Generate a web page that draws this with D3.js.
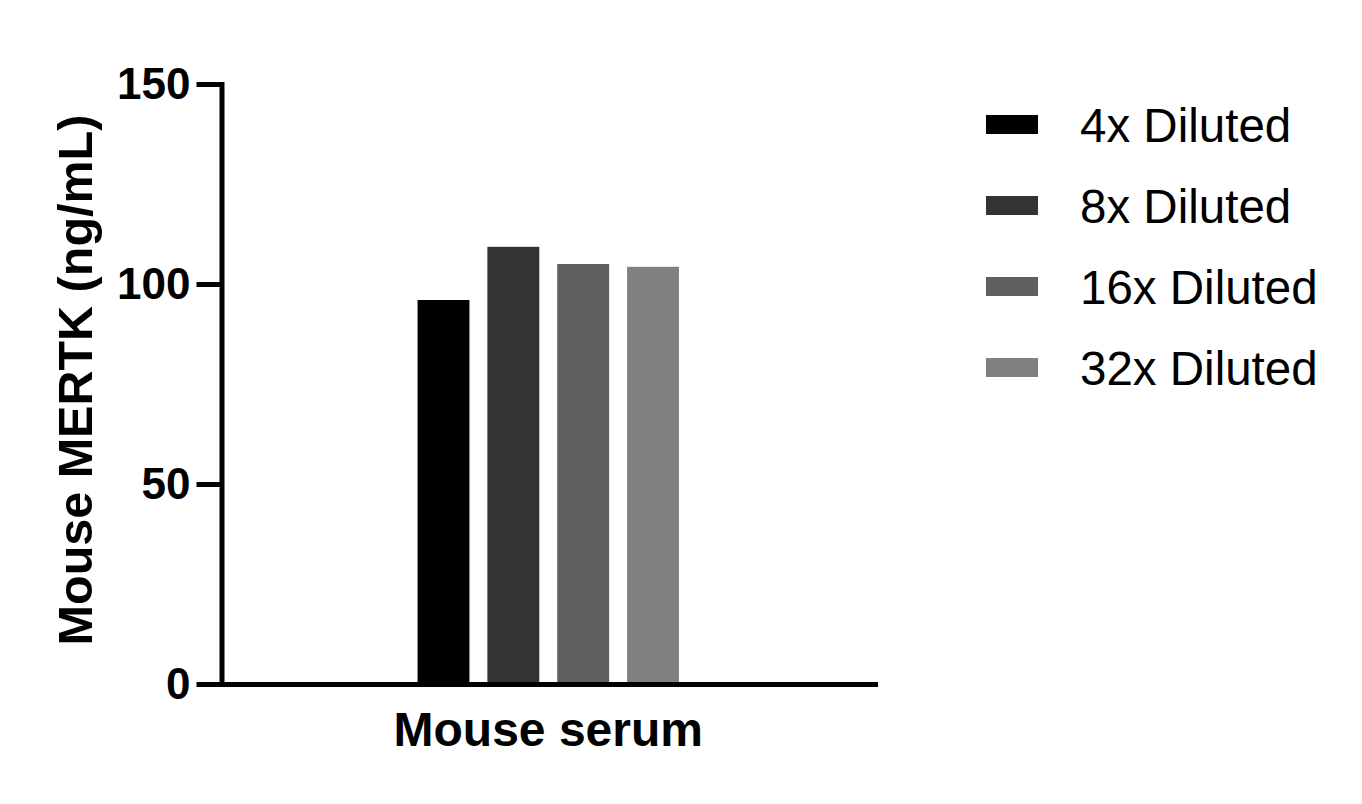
<!DOCTYPE html>
<html>
<head>
<meta charset="utf-8">
<script src="https://cdn.jsdelivr.net/npm/d3@7"></script>
<style>
  html, body { margin: 0; padding: 0; background: #fff; }
  svg { display: block; font-family: "Liberation Sans", Arial, Helvetica, sans-serif; }
</style>
</head>
<body>
<svg id="chart" width="1362" height="804"></svg>
<script>
const categories = ["Mouse serum"];
const seriesNames = ["4x Diluted", "8x Diluted", "16x Diluted", "32x Diluted"];
const seriesValues = [96, 109.3, 105, 104.3];
const seriesColors = ["#000000", "#333333", "#606060", "#808080"];
const yTicks = [0, 50, 100, 150];
const yTitle = "Mouse MERTK (ng/mL)";

(function () {
const svg = d3.select("#chart");
const plotLeft = 221.5, plotRight = 875, plotTop = 84, plotBottom = 684;

const y = d3.scaleLinear().domain([0, 150]).range([plotBottom, plotTop]);
const x0 = d3.scaleBand().domain(categories).range([plotLeft, plotRight]).paddingInner(0).paddingOuter(0.6696);
const x1 = d3.scaleBand().domain(seriesNames).range([0, x0.bandwidth()]).paddingInner(0.257).paddingOuter(0.1285);

const data = seriesNames.map((s, i) => ({ cat: categories[0], name: s, value: seriesValues[i], color: seriesColors[i] }));

// bars
svg.append("g").selectAll("rect").data(data).join("rect")
  .attr("x", d => x0(d.cat) + x1(d.name))
  .attr("width", x1.bandwidth())
  .attr("y", d => y(d.value))
  .attr("height", d => y(0) - y(d.value))
  .attr("fill", d => d.color);

// y axis
const gy = svg.append("g").attr("transform", `translate(${plotLeft},0)`)
  .call(d3.axisLeft(y).tickValues(yTicks).tickSize(25).tickSizeOuter(0).tickPadding(6));
gy.select(".domain").attr("stroke", "#000").attr("stroke-width", 5).attr("stroke-linecap", "square");
gy.selectAll(".tick line").attr("stroke", "#000").attr("stroke-width", 5);
gy.selectAll(".tick text").attr("fill", "#000").attr("font-size", 44).attr("font-weight", "bold")
  .attr("font-family", "'Liberation Sans', Arial, sans-serif");

// x axis
const gx = svg.append("g").attr("transform", `translate(0,${plotBottom})`)
  .call(d3.axisBottom(x0).tickSize(0).tickSizeOuter(0).tickPadding(28));
gx.select(".domain").attr("stroke", "#000").attr("stroke-width", 5).attr("stroke-linecap", "square");
gx.selectAll(".tick text").attr("fill", "#000").attr("font-size", 48).attr("font-weight", "bold")
  .attr("font-family", "'Liberation Sans', Arial, sans-serif");

// y title
svg.append("text")
  .attr("transform", "translate(92,380) rotate(-90)")
  .attr("text-anchor", "middle")
  .attr("font-size", 48.5).attr("font-weight", "bold")
  .attr("fill", "#000")
  .text(yTitle);

// legend
const legend = svg.append("g");
const rows = legend.selectAll("g").data(data).join("g")
  .attr("transform", (d, i) => `translate(986,${124.5 + i * 81})`);
rows.append("rect").attr("x", 0).attr("y", -9.5).attr("width", 52).attr("height", 19).attr("fill", d => d.color);
rows.append("text").attr("x", 94).attr("y", 1).attr("dy", "0.35em")
  .attr("font-size", 47.5).attr("fill", "#000").text(d => d.name);
})();
</script>
</body>
</html>
